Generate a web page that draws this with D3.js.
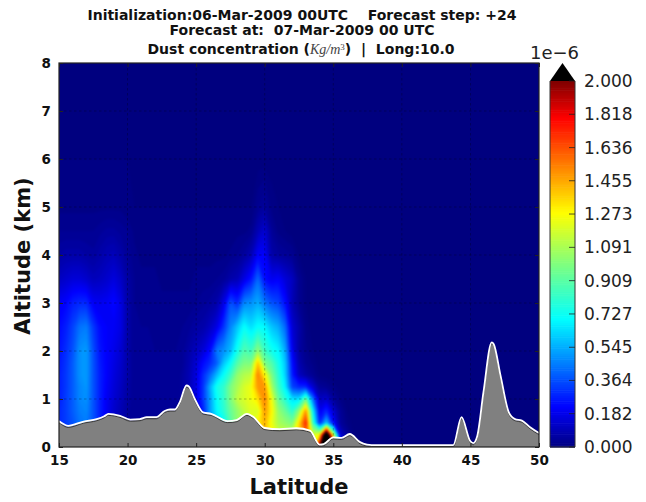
<!DOCTYPE html>
<html>
<head>
<meta charset="utf-8">
<script src="https://cdn.jsdelivr.net/npm/d3@7"></script>
<style>
  body { margin: 0; background: #fff; }
  text { font-family: "DejaVu Sans", sans-serif; fill: #111; }
  .title { font-size: 14px; font-weight: bold; text-anchor: middle; white-space: pre; }
  .axis text { font-size: 13.5px; font-weight: bold; font-family: "DejaVu Sans", sans-serif; fill: #111; }
  .axis path, .axis line { stroke: #222; }
  .grid line { stroke: #000; stroke-width: 0.7; stroke-dasharray: 2.5,2.5; opacity: 0.4; }
</style>
</head>
<body>
<svg id="chart" width="646" height="502"></svg>
<script>
const lats = [15,15.5,16,16.5,17,17.5,18,18.5,19,19.5,
  20,20.5,21,21.5,22,22.5,23,23.5,24,24.5,
  25,25.5,26,26.5,27,27.5,28,28.5,29,29.5,
  30,30.5,31,31.5,32,32.5,33,33.5,34,34.5,
  35,35.5,36,36.5,37,37.5,38];
const alts = [0,0.25,0.5,0.75,1,1.25,1.5,1.75,2,2.5,3,3.5,4,4.5,5,6,8];

// concentration in 1e-8 Kg/m3, one list per altitude level
const dust0 = [26,30,34,40,42,36,28,22,14,8, 5,4,4,4,4,4,4,4,4,4, 4,10,30,50,70,90,100,110,120,130, 140,130,120,120,120,140,160,120,200,320, 200,30,4,1,0,0,0];
const dust025 = [26,30,34,40,42,36,28,22,14,8, 5,4,4,4,4,4,4,4,4,4, 4,10,30,50,70,90,100,110,120,130, 140,130,120,120,120,140,160,120,130,260, 120,16,6,1,0,0,0];
const dust050 = [30,34,38,44,46,38,28,20,14,9, 5,4,4,4,4,4,4,4,5,6, 10,18,45,60,70,90,105,112,122,130, 145,125,110,105,100,135,175,85,30,60, 25,6,2,0,0,0,0];
const dust075 = [30,34,40,46,48,38,28,20,14,10, 6,4,4,4,4,4,4,4,5,8, 14,28,52,70,80,95,105,115,122,120, 150,130,105,95,80,105,150,70,20,30, 15,5,1,0,0,0,0];
const dust100 = [28,34,40,48,50,38,28,20,15,11, 7,4,4,4,4,4,4,4,6,10, 18,32,52,72,82,100,115,120,125,135, 155,125,95,80,65,65,95,45,12,14, 6,2,0,0,0,0,0];
const dust125 = [28,33,40,48,51,38,28,21,16,12, 7,4,4,4,4,4,4,4,6,10, 18,32,55,75,82,100,110,120,125,150, 150,110,85,68,35,30,30,15,5,4, 2,0,0,0,0,0,0];
const dust150 = [28,33,40,50,52,38,28,22,17,13, 8,4,4,4,4,4,4,4,6,10, 17,30,42,58,72,85,105,112,115,155, 130,100,80,62,28,12,7,4,1,0, 0,0,0,0,0,0,0];
const dust175 = [27,32,40,50,52,38,27,22,18,14, 8,4,4,4,4,4,4,4,5,9, 15,24,30,40,60,72,90,100,100,140, 100,90,75,60,25,9,4,2,0,0, 0,0,0,0,0,0,0];
const dust200 = [26,31,38,50,52,37,26,22,19,15, 8,4,4,4,4,4,4,4,5,8, 12,16,24,45,50,58,75,90,85,105, 85,75,70,55,20,7,3,1,0,0, 0,0,0,0,0,0,0];
const dust250 = [24,28,35,44,46,33,24,22,21,18, 8,4,4,4,3,3,3,3,4,5, 7,8,12,18,32,48,60,72,65,72, 70,60,55,42,15,8,2,0,0,0, 0,0,0,0,0,0,0];
const dust300 = [21,23,28,30,30,21,20,21,24,18, 8,4,3,3,3,3,3,3,3,3, 4,5,6,8,18,38,30,48,50,55, 45,38,35,25,10,4,1,0,0,0, 0,0,0,0,0,0,0];
const dust350 = [12,14,16,16,14,11,12,14,17,13, 7,4,3,3,3,2,2,2,2,2, 3,3,3,4,5,8,10,18,26,42, 25,20,22,16,12,4,1,0,0,0, 0,0,0,0,0,0,0];
const dust400 = [7,8,8,8,7,6,8,10,11,8, 5,3,2,2,2,2,2,2,2,2, 2,2,2,2,2,3,4,6,10,22, 22,8,6,5,4,1,0,0,0,0, 0,0,0,0,0,0,0];
const dust450 = [4,4,4,4,4,4,5,6,6,5, 4,2,2,1,1,1,1,1,1,1, 1,1,1,1,1,1,2,2,3,10, 15,5,2,1,0,0,0,0,0,0, 0,0,0,0,0,0,0];
const dust500 = [2,2,2,2,2,2,2,2,2,2, 1,1,1,1,1,1,1,1,1,1, 1,1,1,1,1,1,1,1,1,4, 6,2,1,0,0,0,0,0,0,0, 0,0,0,0,0,0,0];
const dust600 = [1,1,1,1,1,1,1,1,1,1, 1,0,0,0,0,0,0,0,0,0, 0,0,0,0,0,0,0,0,0,0, 0,0,0,0,0,0,0,0,0,0, 0,0,0,0,0,0,0];
const dust800 = [0,0,0,0,0,0,0,0,0,0, 0,0,0,0,0,0,0,0,0,0, 0,0,0,0,0,0,0,0,0,0, 0,0,0,0,0,0,0,0,0,0, 0,0,0,0,0,0,0];
const dustLevels = [dust0,dust025,dust050,dust075,dust100,dust125,dust150,dust175,dust200,dust250,dust300,dust350,dust400,dust450,dust500,dust600,dust800];

const terrainLat = [15,15.2,15.66,16.8,17.75,18.3,18.6,19.45,20.2,20.9,21.4,22.1,22.7,23.1,23.45,23.8,24.3,24.47,24.9,25.5,26.1,27.3,27.95,28.7,29.15,30,31.1,32.3,33.3,34,34.3,35,35.6,36.2,36.95,37.45,37.8,43.75,44.35,44.97,45.2,45.5,45.95,46.55,46.7,47.2,47.8,48.25,48.75,49.35,50];
const terrainAlt = [0.52,0.48,0.42,0.51,0.56,0.62,0.67,0.63,0.55,0.56,0.6,0.6,0.73,0.76,0.76,0.91,1.26,1.24,0.98,0.7,0.67,0.52,0.54,0.67,0.61,0.375,0.35,0.37,0.32,0.03,0.04,0.18,0.17,0.25,0.08,0.03,0.02,0.02,0.6,0.11,0.06,0.21,1.12,2.16,2.12,1.46,0.7,0.56,0.53,0.39,0.27];

const latTicks = [15,20,25,30,35,40,45,50];
const altTicks = [0,1,2,3,4,5,6,7,8];
const cbarTicks = ["0.000","0.182","0.364","0.545","0.727","0.909","1.091","1.273","1.455","1.636","1.818","2.000"];
const titleLines = ["Initialization:06-Mar-2009 00UTC    Forecast step: +24", "Forecast at:  07-Mar-2009 00 UTC"];

const jetStops = [0,0.11,0.35,0.5,0.64,0.9,1];
const jetColors = ["#00007f","#0000ff","#00ffff","#7fff7f","#ffff00","#ff0000","#7f0000"];

const svg = d3.select("svg#chart");
const left = 59, right = 539, top_ = 63, bottom = 447;

const x = d3.scaleLinear().domain([15,50]).range([left,right]);
const y = d3.scaleLinear().domain([0,8]).range([bottom,top_]);
const color = d3.scaleLinear().domain(jetStops.map(d => d*200)).range(jetColors).clamp(true);

svg.append("defs").append("clipPath").attr("id","plotclip")
  .append("rect").attr("x",left).attr("y",top_).attr("width",right-left).attr("height",bottom-top_);

const plot = svg.append("g").attr("clip-path","url(#plotclip)");
plot.append("rect").attr("x",left).attr("y",top_).attr("width",right-left).attr("height",bottom-top_).attr("fill",color(0));

// contour grid index to lat/alt, d3.contours puts values on cell centres
const latOfIdx = d3.scaleLinear().domain(lats.map((d,i) => i+0.5)).range(lats);
const altOfIdx = d3.scaleLinear().domain(alts.map((d,i) => i+0.5)).range(alts);
const project = d3.geoTransform({
  point: function(px,py) { this.stream.point(x(latOfIdx(px)), y(altOfIdx(py))); }
});
const contourPath = d3.geoPath(project);

const levels = d3.range(1,201,1.5);
const contours = d3.contours()
  .size([lats.length, alts.length])
  .thresholds(levels)
  (dustLevels.flat());

plot.append("g").style("filter","blur(1.2px)")
  .selectAll("path.level")
  .data(contours)
  .enter().append("path")
    .attr("class","level")
    .attr("d",contourPath)
    .attr("fill",d => d.value >= 200 ? "#000" : color(d.value));

// dashed grid sits over the field but under the terrain
const grid = plot.append("g").attr("class","grid");
grid.selectAll("line.h").data(altTicks.slice(1,-1)).enter().append("line")
  .attr("x1",left).attr("x2",right).attr("y1",d => y(d)).attr("y2",d => y(d));
grid.selectAll("line.v").data(latTicks.slice(1,-1)).enter().append("line")
  .attr("y1",top_).attr("y2",bottom).attr("x1",d => x(d)).attr("x2",d => x(d));

// terrain
const terrain = d3.range(terrainLat.length).map(i => [terrainLat[i],terrainAlt[i]]);
const terrainArea = d3.area().x(d => x(d[0])).y0(bottom).y1(d => y(d[1])).curve(d3.curveMonotoneX);
const terrainLine = d3.line().x(d => x(d[0])).y(d => y(d[1])).curve(d3.curveMonotoneX);
plot.append("path").attr("d",terrainArea(terrain)).attr("fill","#808080");
plot.append("path").attr("d",terrainLine(terrain)).attr("fill","none").attr("stroke","#3a3a3a").attr("stroke-width",1).attr("transform","translate(0,0.6)");
plot.append("path").attr("d",terrainLine(terrain)).attr("fill","none").attr("stroke","#fff").attr("stroke-width",1.8).attr("transform","translate(0,-1)");

// axes
svg.append("rect").attr("x",left).attr("y",top_).attr("width",right-left).attr("height",bottom-top_)
  .attr("fill","none").attr("stroke","#222").attr("stroke-width",1.2);

const xAxis = svg.append("g").attr("class","axis").attr("transform",`translate(0,${bottom})`)
  .call(d3.axisBottom(x).tickValues(latTicks).tickSizeOuter(0).tickSizeInner(-4).tickPadding(8));
const xAxisTop = svg.append("g").attr("class","axis").attr("transform",`translate(0,${top_})`)
  .call(d3.axisTop(x).tickValues(latTicks).tickSizeOuter(0).tickSizeInner(-4).tickFormat(""));
const yAxis = svg.append("g").attr("class","axis").attr("transform",`translate(${left},0)`)
  .call(d3.axisLeft(y).tickValues(altTicks).tickSizeOuter(0).tickSizeInner(-4).tickPadding(8));
const yAxisRight = svg.append("g").attr("class","axis").attr("transform",`translate(${right},0)`)
  .call(d3.axisRight(y).tickValues(altTicks).tickSizeOuter(0).tickSizeInner(-4).tickFormat(""));
svg.selectAll(".axis path.domain").remove();

svg.append("text").attr("x",299).attr("y",494).attr("text-anchor","middle")
  .style("font-size","21px").style("font-weight","bold").text("Latitude");
svg.append("text").attr("transform","translate(30,256) rotate(-90)").attr("text-anchor","middle")
  .style("font-size","21px").style("font-weight","bold").text("Altitude (km)");

// title
svg.append("text").attr("class","title").attr("x",302).attr("y",20).text(titleLines[0]);
svg.append("text").attr("class","title").attr("x",302).attr("y",35).text(titleLines[1]);
const t3 = svg.append("text").attr("class","title").attr("x",301).attr("y",54);
t3.append("tspan").text("Dust concentration (");
t3.append("tspan").style("font-family","'Liberation Serif',serif").style("font-style","italic").style("font-weight","normal").style("fill","#444").text("Kg/m");
t3.append("tspan").style("font-family","'Liberation Serif',serif").style("font-weight","normal").style("fill","#444").style("font-size","9px").attr("dy",-4).text("3");
t3.append("tspan").attr("dy",4).text(")  |  Long:10.0");

// colorbar
const cbLeft = 550, cbRight = 575, cbTop = 81, cbApex = 63;
const cy = d3.scaleLinear().domain([0,200]).range([bottom,cbTop]);
const cbar = svg.append("g");
cbar.selectAll("rect").data(d3.range(0,200,1)).enter().append("rect")
  .attr("x",cbLeft).attr("width",cbRight-cbLeft)
  .attr("y",d => cy(d+1)).attr("height",d => cy(d)-cy(d+1)+0.6)
  .attr("fill",d => color(d+0.5));
cbar.append("path").attr("d",`M${cbLeft},${cbTop}L${(cbLeft+cbRight)/2},${cbApex}L${cbRight},${cbTop}Z`).attr("fill","#000");
cbar.append("path").attr("d",`M${cbLeft},${cbTop}L${cbLeft},${bottom}L${cbRight},${bottom}L${cbRight},${cbTop}`)
  .attr("fill","none").attr("stroke","#333").attr("stroke-width",1);

cbar.selectAll("line.tick").data(cbarTicks).enter().append("line").attr("class","tick")
  .attr("x1",cbRight-6).attr("x2",cbRight)
  .attr("y1",d => cy(+d*100)).attr("y2",d => cy(+d*100))
  .attr("stroke","#222").attr("stroke-width",0.8);
cbar.selectAll("text.lab").data(cbarTicks).enter().append("text").attr("class","lab")
  .attr("x",584).attr("y",d => cy(+d*100)+6)
  .style("font-size","17px").style("fill","#222").text(d => d);
svg.append("text").attr("x",530).attr("y",59).style("font-size","18px").style("fill","#222").text("1e\u22126");
</script>
</body>
</html>
